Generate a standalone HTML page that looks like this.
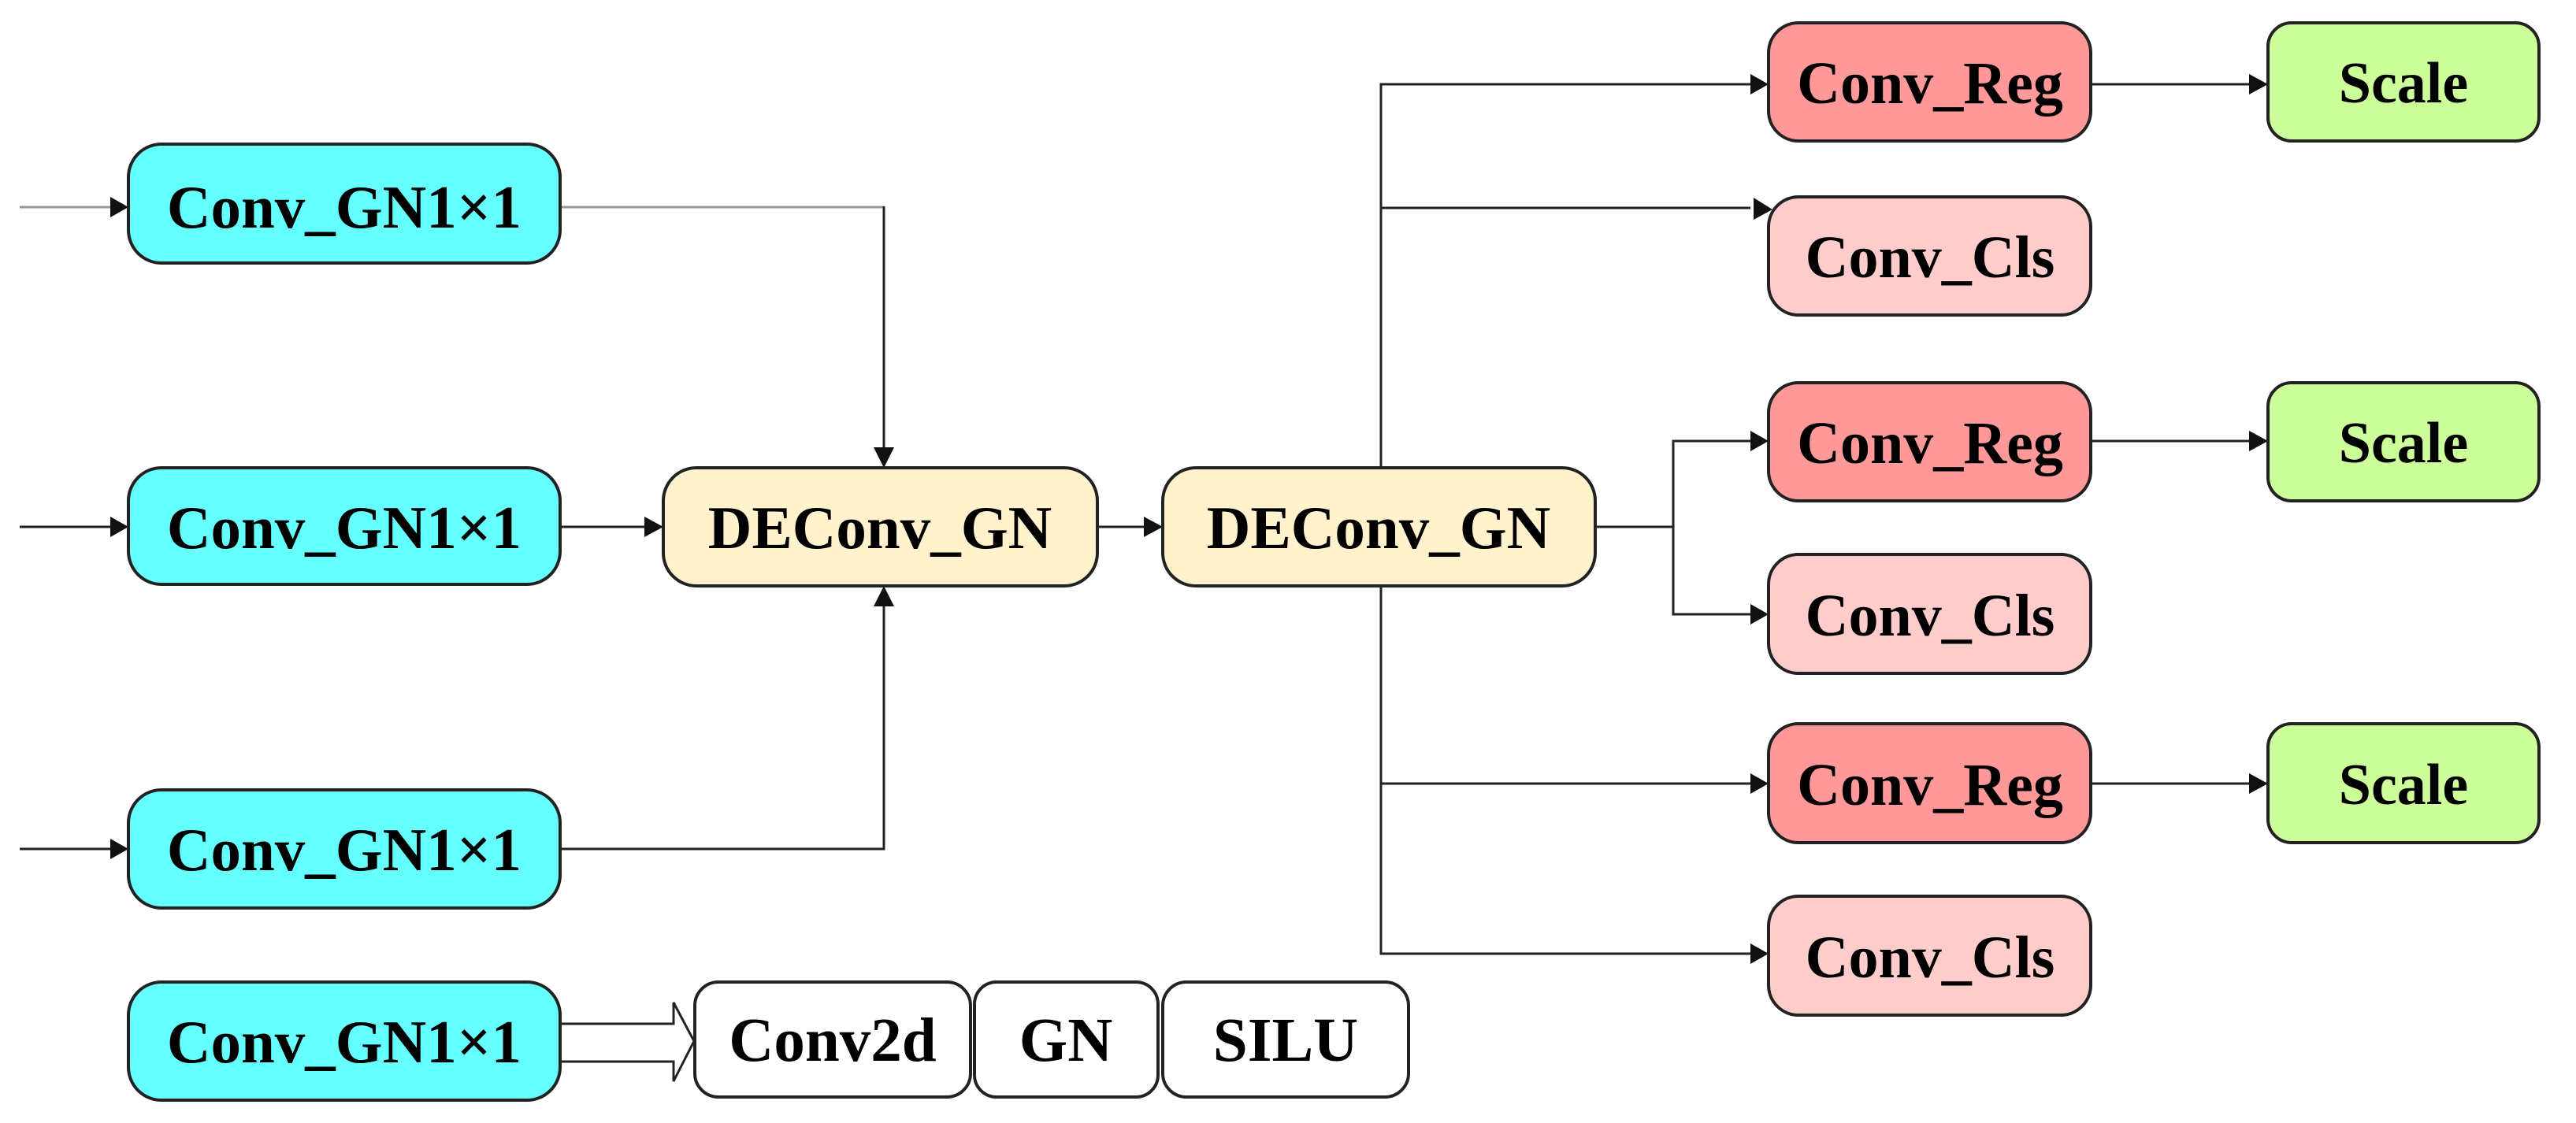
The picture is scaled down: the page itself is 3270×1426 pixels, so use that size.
<!DOCTYPE html>
<html><head><meta charset="utf-8"><style>
html,body{margin:0;padding:0;background:#fff;}
svg{display:block;}
text{font-family:"Liberation Serif",serif;font-weight:bold;fill:#000;}
</style></head><body>
<svg width="3270" height="1426" viewBox="0 0 3270 1426" xmlns="http://www.w3.org/2000/svg">
<g stroke="#222" stroke-width="3" fill="none">
<line x1="25" y1="263" x2="140" y2="263" stroke="#999"/>
<line x1="25" y1="669" x2="140" y2="669"/>
<line x1="25" y1="1078" x2="140" y2="1078"/>
<line x1="711" y1="263" x2="1122" y2="263" stroke="#999"/>
<line x1="1122" y1="262" x2="1122" y2="568"/>
<polyline points="711,1078 1122,1078 1122,770"/>
<line x1="711" y1="669" x2="818" y2="669"/>
<line x1="1393" y1="669" x2="1452" y2="669"/>
<polyline points="1753,594 1753,107 2222,107"/>
<line x1="1753" y1="264" x2="2222" y2="264"/>
<polyline points="1753,744 1753,1211 2222,1211"/>
<line x1="1753" y1="995" x2="2222" y2="995"/>
<line x1="2025" y1="669" x2="2124" y2="669"/>
<polyline points="2222,560 2124,560 2124,780 2222,780"/>
<line x1="2654" y1="107" x2="2855" y2="107"/>
<line x1="2654" y1="560" x2="2855" y2="560"/>
<line x1="2654" y1="995" x2="2855" y2="995"/>
</g>
<g fill="#111">
<polygon points="140,250 163,263 140,276"/>
<polygon points="140,656 163,669 140,682"/>
<polygon points="140,1065 163,1078 140,1091"/>
<polygon points="1109,568 1122,594 1135,568"/>
<polygon points="1109,770 1122,744 1135,770"/>
<polygon points="818,656 842,669 818,682"/>
<polygon points="1452,656 1476,669 1452,682"/>
<polygon points="2222,94 2245,107 2222,120"/>
<polygon points="2226,251 2250,266 2226,279"/>
<polygon points="2222,547 2245,560 2222,573"/>
<polygon points="2222,767 2245,780 2222,793"/>
<polygon points="2222,982 2245,995 2222,1008"/>
<polygon points="2222,1198 2245,1211 2222,1224"/>
<polygon points="2855,94 2879,107 2855,120"/>
<polygon points="2855,547 2879,560 2855,573"/>
<polygon points="2855,982 2879,995 2855,1008"/>
</g>
<polygon points="711,1300 855,1300 855,1273 881,1322 855,1373 855,1348 711,1348" fill="#fff" stroke="#222" stroke-width="3"/>
<g stroke="#222" stroke-width="4">
<rect x="163" y="183" width="548" height="151" rx="42" fill="#66ffff"/>
<rect x="163" y="594" width="548" height="148" rx="42" fill="#66ffff"/>
<rect x="163" y="1003" width="548" height="150" rx="42" fill="#66ffff"/>
<rect x="163" y="1247" width="548" height="150" rx="42" fill="#66ffff"/>
<rect x="842" y="594" width="551" height="150" rx="42" fill="#fff2cc"/>
<rect x="1476" y="594" width="549" height="150" rx="42" fill="#fff2cc"/>
<rect x="2245" y="29" width="409" height="150" rx="38" fill="#ff9999"/>
<rect x="2245" y="250" width="409" height="150" rx="38" fill="#ffcccc"/>
<rect x="2245" y="486" width="409" height="150" rx="38" fill="#ff9999"/>
<rect x="2245" y="704" width="409" height="151" rx="38" fill="#ffcccc"/>
<rect x="2245" y="919" width="409" height="151" rx="38" fill="#ff9999"/>
<rect x="2245" y="1138" width="409" height="151" rx="38" fill="#ffcccc"/>
<rect x="2879" y="29" width="344" height="150" rx="30" fill="#ccff99"/>
<rect x="2879" y="486" width="344" height="150" rx="30" fill="#ccff99"/>
<rect x="2879" y="919" width="344" height="151" rx="30" fill="#ccff99"/>
<rect x="882" y="1247" width="350" height="146" rx="30" fill="#fff"/>
<rect x="1237" y="1247" width="233" height="146" rx="28" fill="#fff"/>
<rect x="1476" y="1247" width="312" height="146" rx="30" fill="#fff"/>
</g>
<g font-size="77" text-anchor="middle">
<text x="437" y="289">Conv_GN1×1</text>
<text x="437" y="696">Conv_GN1×1</text>
<text x="437" y="1105">Conv_GN1×1</text>
<text x="437" y="1349">Conv_GN1×1</text>
<text x="1117" y="696">DEConv_GN</text>
<text x="1750" y="696">DEConv_GN</text>
</g>
<g font-size="76" text-anchor="middle">
<text x="2450" y="131">Conv_Reg</text>
<text x="2450" y="352">Conv_Cls</text>
<text x="2450" y="588">Conv_Reg</text>
<text x="2450" y="807">Conv_Cls</text>
<text x="2450" y="1022">Conv_Reg</text>
<text x="2450" y="1241">Conv_Cls</text>
</g>
<g font-size="74" text-anchor="middle">
<text x="3051" y="130">Scale</text>
<text x="3051" y="587">Scale</text>
<text x="3051" y="1021">Scale</text>
</g>
<g font-size="79" text-anchor="middle">
<text x="1057" y="1347">Conv2d</text>
<text x="1353" y="1347">GN</text>
<text x="1632" y="1347">SILU</text>
</g>
</svg>
</body></html>
